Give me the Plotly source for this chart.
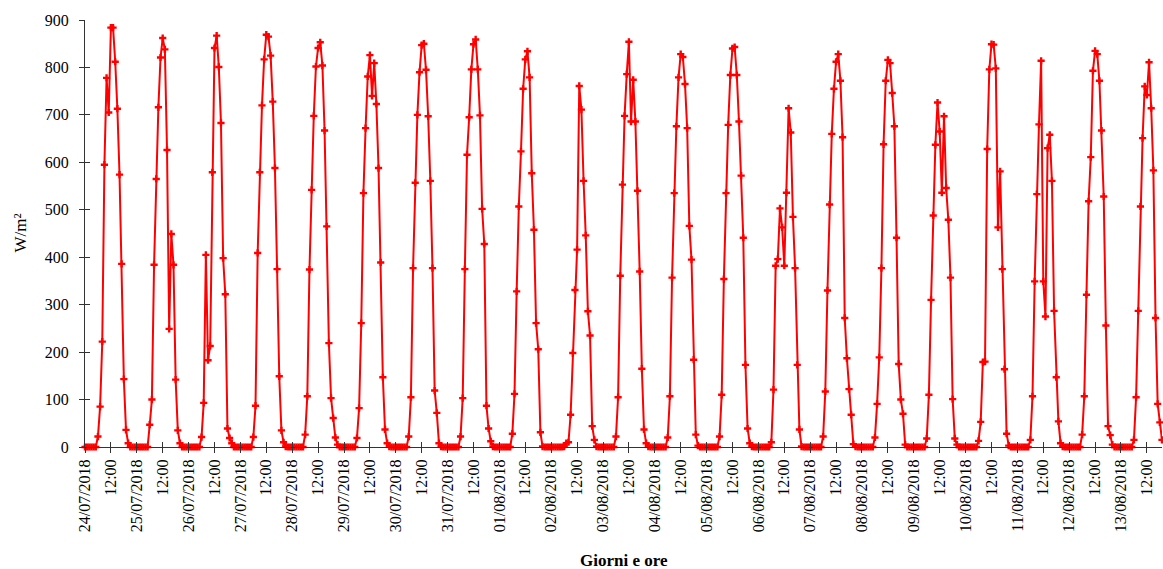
import plotly.graph_objects as go

# Hourly global irradiance (W/m²), one list per day, 00:00 .. 23:00
d_24_07 = [0, 0, 0, 0, 0, 0, 22, 85, 222, 595, 778, 705, 884, 884, 812, 713, 574, 386, 143, 36, 8, 0, 0, 0]
d_25_07 = [0, 0, 0, 0, 0, 0, 47, 100, 384, 565, 716, 821, 862, 838, 626, 249, 449, 384, 142, 35, 8, 0, 0, 0]
d_26_07 = [0, 0, 0, 0, 0, 0, 21, 93, 405, 183, 213, 579, 841, 867, 801, 683, 398, 322, 39, 19, 8, 0, 0, 0]
d_27_07 = [0, 0, 0, 0, 0, 0, 21, 87, 409, 579, 720, 817, 869, 865, 825, 728, 588, 375, 149, 35, 10, 1, 0, 0]
d_28_07 = [0, 0, 0, 0, 0, 0, 26, 107, 374, 542, 698, 802, 841, 853, 804, 667, 465, 219, 103, 61, 20, 5, 0, 0]
d_29_07 = [0, 0, 0, 0, 0, 0, 19, 82, 261, 535, 672, 781, 826, 740, 809, 723, 588, 389, 147, 37, 8, 1, 0, 0]
d_30_07 = [0, 0, 0, 0, 0, 0, 22, 105, 377, 557, 700, 790, 847, 850, 795, 697, 561, 377, 119, 72, 8, 1, 0, 0]
d_31_07 = [0, 0, 0, 0, 0, 0, 22, 103, 375, 616, 695, 796, 849, 859, 796, 699, 502, 428, 87, 39, 12, 1, 0, 0]
d_01_08 = [0, 0, 0, 0, 0, 0, 28, 112, 328, 507, 623, 755, 817, 834, 779, 577, 458, 261, 206, 31, 1, 0, 0, 0]
d_02_08 = [0, 0, 0, 0, 0, 0, 1, 8, 10, 68, 198, 331, 416, 761, 711, 561, 446, 286, 235, 44, 15, 1, 0, 0]
d_03_08 = [0, 0, 0, 0, 0, 0, 22, 105, 361, 553, 698, 786, 854, 686, 774, 686, 540, 370, 165, 37, 8, 1, 0, 0]
d_04_08 = [0, 0, 0, 0, 0, 0, 20, 107, 357, 535, 676, 779, 828, 822, 765, 672, 466, 395, 184, 26, 3, 0, 0, 0]
d_05_08 = [0, 0, 0, 0, 0, 0, 22, 110, 354, 535, 679, 784, 840, 843, 784, 686, 572, 441, 173, 39, 8, 1, 0, 0]
d_06_08 = [0, 0, 0, 0, 0, 0, 10, 121, 382, 396, 503, 463, 382, 536, 714, 663, 485, 377, 173, 37, 1, 0, 0, 0]
d_07_08 = [0, 0, 0, 0, 0, 0, 22, 117, 330, 511, 660, 755, 812, 828, 772, 653, 272, 187, 122, 68, 6, 1, 0, 0]
d_08_08 = [0, 0, 0, 0, 0, 0, 20, 91, 189, 377, 638, 772, 816, 809, 746, 676, 441, 175, 100, 70, 5, 0, 0, 0]
d_09_08 = [0, 0, 0, 0, 0, 0, 18, 110, 310, 488, 637, 726, 665, 536, 697, 546, 479, 357, 101, 18, 5, 0, 0, 0]
d_10_08 = [0, 0, 0, 0, 0, 0, 13, 53, 179, 180, 628, 796, 849, 848, 798, 463, 581, 375, 164, 28, 3, 0, 0, 0]
d_11_08 = [0, 0, 0, 0, 0, 0, 15, 107, 349, 533, 680, 814, 349, 275, 630, 658, 561, 287, 147, 54, 8, 1, 0, 0]
d_12_08 = [0, 0, 0, 0, 0, 0, 26, 107, 321, 518, 611, 793, 835, 828, 772, 667, 528, 256, 44, 25, 5, 0, 0, 0]
d_13_08 = [0, 0, 0, 0, 0, 0, 15, 105, 287, 507, 651, 760, 742, 811, 714, 583, 272, 91, 52, 15]

dates = ["24/07/2018", "25/07/2018", "26/07/2018", "27/07/2018", "28/07/2018",
         "29/07/2018", "30/07/2018", "31/07/2018", "01/08/2018", "02/08/2018",
         "03/08/2018", "04/08/2018", "05/08/2018", "06/08/2018", "07/08/2018",
         "08/08/2018", "09/08/2018", "10/08/2018", "11/08/2018", "12/08/2018",
         "13/08/2018"]
midday_label = "12:00"
y_ticks = [0, 100, 200, 300, 400, 500, 600, 700, 800, 900]

days = [d_24_07, d_25_07, d_26_07, d_27_07, d_28_07, d_29_07, d_30_07, d_31_07,
        d_01_08, d_02_08, d_03_08, d_04_08, d_05_08, d_06_08, d_07_08, d_08_08,
        d_09_08, d_10_08, d_11_08, d_12_08, d_13_08]

values = [v for d in days for v in d]
hours = list(range(len(values)))

tickvals, ticktext = [], []
for i, dt in enumerate(dates):
    tickvals += [i * 24, i * 24 + 12]
    ticktext += [dt, midday_label]

FONT = "Times New Roman, Liberation Serif, serif"
AX = "#333333"

fig = go.Figure()
fig.add_trace(go.Scatter(
    x=hours, y=values, mode="lines+markers",
    line=dict(color="#FF0000", width=2),
    marker=dict(symbol="cross", size=6, color="#FF0000", line=dict(width=0)),
    cliponaxis=False, showlegend=False, hoverinfo="x+y",
))
# dummy trace on overlay axes (inner half of the crossing tick marks)
fig.add_trace(go.Scatter(x=[None], y=[None], xaxis="x2", yaxis="y2",
                         showlegend=False, hoverinfo="skip"))

xr = [0, len(values) - 1]
fig.update_layout(
    width=1163, height=569,
    margin=dict(l=85, r=1, t=20, b=122),
    paper_bgcolor="white", plot_bgcolor="white",
    font=dict(family=FONT, size=16, color="black"),
    xaxis=dict(range=xr, tickmode="array", tickvals=tickvals, ticktext=ticktext,
               tickangle=-90, ticks="outside", ticklen=5, tickcolor=AX, tickwidth=1,
               showline=True, linecolor=AX, linewidth=1, showgrid=False,
               zeroline=False, tickfont=dict(family=FONT, size=16)),
    yaxis=dict(range=[0, 900], tickmode="array", tickvals=y_ticks,
               ticks="outside", ticklen=5, tickcolor=AX, tickwidth=1,
               showline=True, linecolor=AX, linewidth=1, showgrid=False,
               zeroline=False, tickfont=dict(family=FONT, size=16),
               ticklabelstandoff=7),
    xaxis2=dict(range=xr, overlaying="x", tickmode="array", tickvals=tickvals,
                ticks="inside", ticklen=5, tickcolor=AX, showticklabels=False,
                showline=False, showgrid=False, zeroline=False, side="bottom"),
    yaxis2=dict(range=[0, 900], overlaying="y", tickmode="array", tickvals=y_ticks,
                ticks="inside", ticklen=5, tickcolor=AX, showticklabels=False,
                showline=False, showgrid=False, zeroline=False, side="left"),
    annotations=[
        dict(text="W/m²", xref="paper", yref="paper", x=-65 / 1077, y=0.5,
             xanchor="center", yanchor="middle", textangle=-90, showarrow=False,
             font=dict(family=FONT, size=17)),
        dict(text="<b>Giorni e ore</b>", xref="paper", yref="paper", x=0.5,
             y=-113 / 427, xanchor="center", yanchor="middle", showarrow=False,
             font=dict(family=FONT, size=17)),
    ],
)

fig.write_html("out.html",
               config={"displayModeBar": False},
               post_script="document.body.style.margin='0px';"
                           "document.body.style.overflow='hidden';")
